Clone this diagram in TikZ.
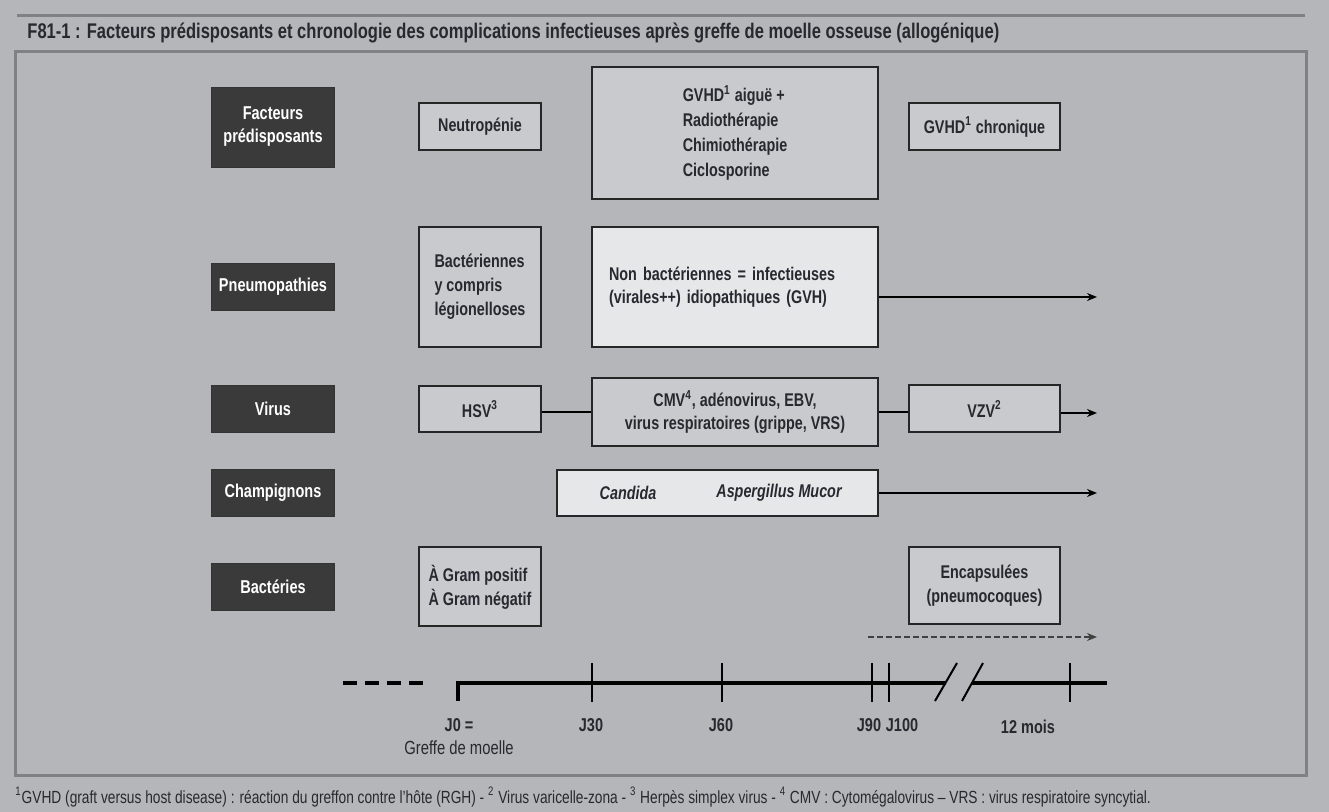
\documentclass[tikz,border=0pt]{standalone}
\usepackage{fontspec}
\setmainfont{Liberation Sans}[FakeStretch=0.78]
\usetikzlibrary{arrows.meta}

\definecolor{fondgris}{RGB}{181,182,185}
\definecolor{cadregris}{RGB}{128,129,132}
\definecolor{boitegris}{RGB}{201,202,205}
\definecolor{boiteclair}{RGB}{230,231,233}
\definecolor{catnoir}{RGB}{58,58,58}
\definecolor{texte}{RGB}{40,40,48}

\tikzset{
  cat/.style={draw=black!80, fill=catnoir, text=white, font=\fontsize{9.3}{10}\selectfont\bfseries, minimum width=61.5pt, align=center, inner sep=1pt},
  boite/.style={draw=black!85, line width=1pt, fill=boitegris, text=texte, font=\fontsize{9.2}{12.5}\selectfont\bfseries, align=center, inner sep=2pt},
  fleche/.style={line width=1pt, -{Stealth[length=5pt,width=4pt]}},
  tick/.style={line width=1pt},
  jour/.style={text=texte, font=\fontsize{9.3}{11.5}\selectfont\bfseries}
}

\begin{document}
\begin{tikzpicture}[x=0.5pt,y=-0.5pt]

% fond et cadre
\fill[fondgris] (0,0) rectangle (1329,812);
\useasboundingbox (0,0) rectangle (1329,812);
\draw[cadregris, line width=1.5pt] (17,16) -- (1305,16);
\draw[cadregris, line width=1.5pt] (15,52) rectangle (1306,775);

% titre
\node[anchor=west, text=texte, font=\fontsize{10.6}{12}\selectfont\bfseries, inner sep=0] (titre) at (27,33)
  {F81-1 : Facteurs prédisposants et chronologie des complications infectieuses après greffe de moelle osseuse (allogénique)};

% Categories
\node[cat, minimum height=40pt, font=\fontsize{9.3}{11.5}\selectfont\bfseries] (facteurs) at (273,127) {Facteurs\\prédisposants};
\node[cat, minimum height=23.5pt] (pneumo) at (273,287) {Pneumopathies};
\node[cat, minimum height=23.5pt] (virus) at (273,409) {Virus};
\node[cat, minimum height=23.5pt] (champi) at (273,493) {Champignons};
\node[cat, minimum height=23.5pt] (bacteries) at (273,587) {Bactéries};

% Facteurs predisposants
\node[boite, minimum width=61pt, minimum height=23.5pt] (neutro) at (480,127) {Neutropénie};
\node[boite, minimum width=143pt, minimum height=66pt, align=left] (aigue) at (735,133)
  {GVHD\textsuperscript{1} aiguë +\\Radiothérapie\\Chimiothérapie\\Ciclosporine};
\node[boite, minimum width=75.5pt, minimum height=23.5pt] (gvhdchro) at (984.5,127) {GVHD\textsuperscript{1} chronique};

% Pneumopathies
\node[boite, minimum width=61pt, minimum height=60pt, align=left, font=\fontsize{9.2}{12}\selectfont\bfseries] (bacter) at (480,287)
  {Bactériennes\\y compris\\légionelloses};
\node[boite, fill=boiteclair, minimum height=60pt, text width=126pt, inner xsep=8.5pt, align=left, font=\fontsize{9.2}{11.5}\selectfont\bfseries] (nonbact) at (735,287)
  {Non bactériennes = infectieuses\\(virales++) idiopathiques (GVH)};
\coordinate (pneufin) at (1097,297);
\draw[fleche] (nonbact.east |- pneufin) -- (pneufin);

% Virus
\node[boite, minimum width=61pt, minimum height=23pt] (hsv) at (480,409) {HSV\textsuperscript{3}};
\node[boite, minimum width=143pt, minimum height=34pt, font=\fontsize{9.2}{11.5}\selectfont\bfseries] (cmv) at (735,412)
  {CMV\textsuperscript{4}, adénovirus, EBV,\\virus respiratoires (grippe, VRS)};
\node[boite, minimum width=75.5pt, minimum height=23.5pt] (vzv) at (984.5,409) {VZV\textsuperscript{2}};
\coordinate (virusfin) at (1097,413);
\draw[line width=1pt] (hsv.east |- cmv.west) -- (cmv.west);
\draw[line width=1pt] (cmv.east) -- (vzv.west |- cmv.east);
\draw[fleche] (vzv.east |- virusfin) -- (virusfin);

% Champignons
\node[boite, fill=boiteclair, minimum width=160.5pt, minimum height=23pt] (fungi) at (717.5,493) {};
\node[text=texte, font=\fontsize{9.2}{10}\selectfont\bfseries\itshape] (candida) at (628,493) {Candida};
\node[text=texte, font=\fontsize{9.2}{10}\selectfont\bfseries\itshape] (asperg) at (779,493) {Aspergillus Mucor};
\coordinate (fungifin) at (1097,493);
\draw[fleche] (fungi.east) -- (fungifin);

% Bacteries
\node[boite, minimum width=61pt, minimum height=39.5pt, align=left, font=\fontsize{9.2}{12}\selectfont\bfseries] (gram) at (480,587)
  {À Gram positif\\À Gram négatif};
\node[boite, minimum width=75.5pt, minimum height=38.5pt, font=\fontsize{9.2}{12}\selectfont\bfseries] (encaps) at (984.5,585.5)
  {Encapsulées\\(pneumocoques)};
\coordinate (encdebut) at (868,637);
\coordinate (encfin) at (1097,637);
\draw[fleche, line width=0.9pt, dash pattern=on 3pt off 1.5pt, black!75] (encdebut) -- (encfin);

% Axe du temps
\draw[line width=2pt, dash pattern=on 7pt off 4pt] (343,683) -- (430,683);
\draw[line width=2pt] (458,701) -- (458,683) -- (946,683);
\draw[line width=2pt] (972,683) -- (1107,683);
\draw[line width=1pt] (935,701) -- (957,663);
\draw[line width=1pt] (962,701) -- (983,663);
\foreach \x in {592,722,872,889,1070}
  \draw[tick] (\x,663) -- (\x,702);

\node[jour] (j0) at (459,725) {J0 =};
\node[jour, font=\fontsize{9.5}{10}\selectfont] (greffe) at (459,748) {Greffe de moelle};
\node[jour] (j30) at (591,725) {J30};
\node[jour] (j60) at (721,725) {J60};
\node[jour] (j90) at (869,725) {J90};
\node[jour] (j100) at (902,725) {J100};
\node[jour] (douze) at (1028,727) {12 mois};

% notes
\node[anchor=west, text=texte, font=\fontsize{8.8}{10}\selectfont, inner sep=0] (notes) at (15,797)
  {\textsuperscript{1}GVHD (graft versus host disease) : réaction du greffon contre l’hôte (RGH) - \textsuperscript{2} Virus varicelle-zona - \textsuperscript{3} Herpès simplex virus - \textsuperscript{4} CMV : Cytomégalovirus – VRS : virus respiratoire syncytial.};

\end{tikzpicture}
\end{document}
